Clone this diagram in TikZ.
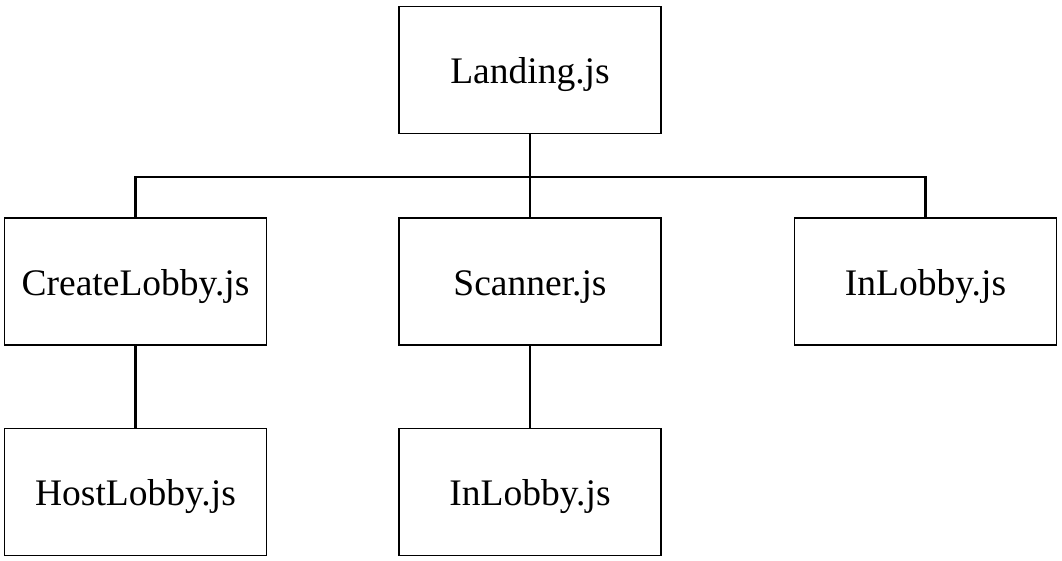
\documentclass[tikz,border=0pt]{standalone}
\usepackage{fontspec}
\setmainfont{Liberation Serif}

\begin{document}
\begin{tikzpicture}[x=1pt, y=-1pt,
	file/.style={draw, line width=1.3pt, minimum width=262pt, minimum height=127pt,
		inner sep=0pt, text height=27pt, text depth=0pt,
		font=\fontsize{37.5}{42}\selectfont},
	link/.style={line width=2.3pt}]
	\useasboundingbox (0,0) rectangle (1062,561);

	% top level
	\node[file] (land) at (530,70) {Landing.js};

	% second row
	\node[file] (create) at (135.5,281.5) {CreateLobby.js};
	\node[file] (scan) at (530,281.5) {Scanner.js};
	\node[file] (inlobbyA) at (925.5,281.5) {InLobby.js};

	% third row
	\node[file] (host) at (135.5,492) {HostLobby.js};
	\node[file] (inlobbyB) at (530,492) {InLobby.js};

	\coordinate (bus) at (530,177);

	\draw[link] (land.south) -- (scan.north);
	\draw[link] (create.north) |- (bus) -| (inlobbyA.north);
	\draw[link] (create.south) -- (host.north);
	\draw[link] (scan.south) -- (inlobbyB.north);

\end{tikzpicture}
\end{document}
